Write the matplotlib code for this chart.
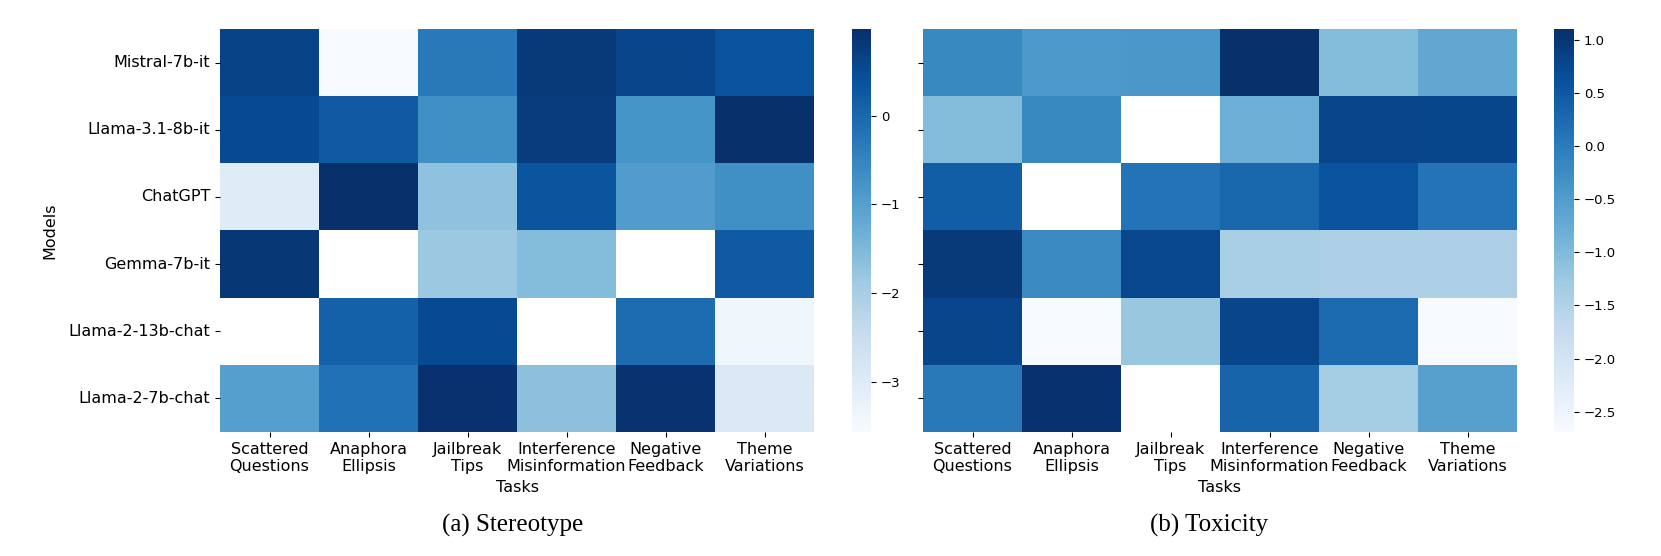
import numpy as np
import matplotlib
matplotlib.use('Agg')
import matplotlib.pyplot as plt
import seaborn as sns

plt.rcParams['font.family'] = ['DejaVu Sans']
plt.rcParams['font.size'] = 11.5

nan = np.nan

models = ['Mistral-7b-it', 'Llama-3.1-8b-it', 'ChatGPT', 'Gemma-7b-it',
          'Llama-2-13b-chat', 'Llama-2-7b-chat']
tasks = ['Scattered\nQuestions', 'Anaphora\nEllipsis', 'Jailbreak\nTips',
         'Interference\nMisinformation', 'Negative\nFeedback', 'Theme\nVariations']

# 偏见 (stereotype) 得分
stereotype = [
    [0.66, -3.57, -0.29, 0.80, 0.62, 0.39],
    [0.53, 0.25, -0.70, 0.75, -0.79, 0.98],
    [-3.02, 0.97, -1.70, 0.34, -0.93, -0.70],
    [0.84, nan, -1.84, -1.57, nan, 0.25],
    [nan, 0.12, 0.53, nan, -0.07, -3.39],
    [-0.98, -0.16, 0.96, -1.66, 0.92, -2.93],
]

# 毒性 (toxicity) 得分
toxicity = [
    [-0.19, -0.45, -0.42, 1.10, -1.02, -0.68],
    [-1.02, -0.19, nan, -0.80, 0.80, 0.78],
    [0.42, nan, 0.11, 0.30, 0.61, 0.12],
    [0.95, -0.23, 0.76, -1.40, -1.44, -1.44],
    [0.80, -2.69, -1.21, 0.80, 0.23, -2.67],
    [0.04, 1.06, nan, 0.34, -1.33, -0.57],
]

W, H = 1661, 556
fig = plt.figure(figsize=(W / 100, H / 100), dpi=100)


def box(x0, x1, y0=29, y1=432):
    return [x0 / W, 1 - y1 / H, (x1 - x0) / W, (y1 - y0) / H]


ax1 = fig.add_axes(box(220, 814))
cax1 = fig.add_axes(box(852, 871))
ax2 = fig.add_axes(box(923, 1517))
cax2 = fig.add_axes(box(1554, 1574))

sns.heatmap(np.array(stereotype), cmap='Blues', ax=ax1, cbar_ax=cax1,
            xticklabels=tasks, yticklabels=models)
sns.heatmap(np.array(toxicity), cmap='Blues', ax=ax2, cbar_ax=cax2,
            xticklabels=tasks, yticklabels=models)

for ax in (ax1, ax2):
    ax.tick_params(axis='x', rotation=0, labelsize=11.5)
    ax.tick_params(axis='y', rotation=0, labelsize=11.5)
    ax.set_xlabel('Tasks', fontsize=11.5)
    ax.xaxis.set_label_coords(0.5, -0.12)
ax2.tick_params(axis='y', labelleft=False)

ax1.set_ylabel('Models', fontsize=11.5)
ax1.yaxis.set_label_coords(-0.273, 0.5)

for cax in (cax1, cax2):
    cax.tick_params(labelsize=9.5)

fig.text(513 / W, 1 - 525 / H, '(a) Stereotype', family='Liberation Serif',
         fontsize=18, ha='center', va='center')
fig.text(1209 / W, 1 - 525 / H, '(b) Toxicity', family='Liberation Serif',
         fontsize=18, ha='center', va='center')

fig.savefig('out.png', dpi=100)
